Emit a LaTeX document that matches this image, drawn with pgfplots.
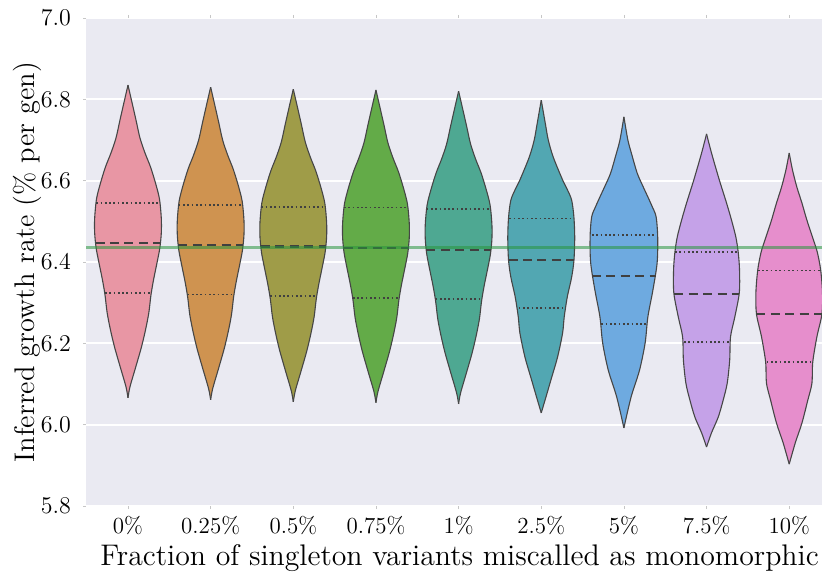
\documentclass[border=0pt]{standalone}
\usepackage{pgfplots}
\pgfplotsset{compat=1.18}
\usepackage{pgfplotstable}
\usepgfplotslibrary{fillbetween}

\definecolor{bgc}{RGB}{234,234,242}
\definecolor{edgec}{RGB}{70,70,70}
\definecolor{innerc}{RGB}{64,64,64}
\definecolor{gline}{RGB}{40,150,60}
\definecolor{c0}{RGB}{232,150,164}
\definecolor{c1}{RGB}{207,147,80}
\definecolor{c2}{RGB}{159,156,72}
\definecolor{c3}{RGB}{99,171,72}
\definecolor{c4}{RGB}{78,168,146}
\definecolor{c5}{RGB}{82,167,178}
\definecolor{c6}{RGB}{110,170,224}
\definecolor{c7}{RGB}{197,162,232}
\definecolor{c8}{RGB}{230,142,204}

% violin outlines: y value and half-width (category units)
\pgfplotstableread{
y w
6.066 0
6.093 0.024
6.142 0.094
6.191 0.163
6.233 0.212
6.275 0.252
6.319 0.278
6.356 0.309
6.398 0.351
6.434 0.385
6.471 0.403
6.508 0.403
6.555 0.381
6.594 0.333
6.634 0.272
6.668 0.206
6.705 0.145
6.749 0.097
6.798 0.042
6.835 0
}\vA
\pgfplotstableread{
y w
6.061 0
6.088 0.024
6.137 0.094
6.186 0.163
6.228 0.212
6.270 0.252
6.314 0.278
6.351 0.309
6.393 0.351
6.429 0.385
6.466 0.403
6.503 0.403
6.550 0.381
6.589 0.333
6.629 0.272
6.663 0.206
6.700 0.145
6.744 0.097
6.793 0.042
6.830 0
}\vB
\pgfplotstableread{
y w
6.056 0
6.083 0.024
6.132 0.094
6.181 0.163
6.223 0.212
6.265 0.252
6.309 0.278
6.346 0.309
6.388 0.351
6.424 0.385
6.461 0.403
6.498 0.403
6.545 0.381
6.584 0.333
6.624 0.272
6.658 0.206
6.695 0.145
6.739 0.097
6.788 0.042
6.825 0
}\vC
\pgfplotstableread{
y w
6.054 0
6.081 0.024
6.130 0.094
6.179 0.163
6.221 0.212
6.263 0.252
6.307 0.278
6.344 0.309
6.386 0.351
6.422 0.385
6.459 0.403
6.496 0.403
6.543 0.381
6.582 0.333
6.622 0.272
6.656 0.206
6.693 0.145
6.737 0.097
6.786 0.042
6.823 0
}\vD
\pgfplotstableread{
y w
6.051 0
6.078 0.024
6.127 0.094
6.176 0.163
6.218 0.212
6.260 0.252
6.304 0.278
6.341 0.309
6.383 0.351
6.419 0.385
6.456 0.403
6.493 0.403
6.540 0.381
6.579 0.333
6.619 0.272
6.653 0.206
6.690 0.145
6.734 0.097
6.783 0.042
6.820 0
}\vE
\pgfplotstableread{
y w
6.029 0
6.068 0.057
6.110 0.117
6.166 0.197
6.225 0.258
6.265 0.278
6.314 0.315
6.363 0.368
6.405 0.396
6.461 0.405
6.511 0.395
6.552 0.368
6.577 0.318
6.602 0.258
6.658 0.145
6.700 0.085
6.742 0.048
6.798 0
}\vF
\pgfplotstableread{
y w
5.992 0
6.068 0.087
6.134 0.189
6.201 0.257
6.265 0.290
6.331 0.351
6.398 0.402
6.461 0.409
6.511 0.390
6.535 0.345
6.560 0.290
6.589 0.224
6.619 0.160
6.663 0.097
6.700 0.048
6.757 0
}\vG
\pgfplotstableread{
y w
5.945 0
5.980 0.060
6.019 0.142
6.061 0.202
6.102 0.250
6.159 0.280
6.216 0.290
6.265 0.342
6.324 0.396
6.380 0.399
6.422 0.384
6.461 0.355
6.503 0.302
6.545 0.242
6.602 0.154
6.668 0.060
6.715 0
}\vH
\pgfplotstableread{
y w
5.903 0
5.955 0.073
6.004 0.154
6.061 0.226
6.102 0.275
6.154 0.285
6.216 0.335
6.272 0.396
6.324 0.403
6.380 0.381
6.425 0.339
6.461 0.282
6.503 0.214
6.545 0.154
6.584 0.093
6.626 0.040
6.668 0
}\vI

\newcommand{\violin}[3]{%
  \addplot[edgec, line width=0.55pt, smooth, tension=0.5, name path=R#1] table[x expr=#1+\thisrow{w}, y=y] {#2};
  \addplot[edgec, line width=0.55pt, smooth, tension=0.5, name path=L#1] table[x expr=#1-\thisrow{w}, y=y] {#2};
  \addplot[fill=#3, draw=none] fill between[of=R#1 and L#1];
}

\begin{document}
\begin{tikzpicture}
\begin{axis}[
  at={(0,0)}, anchor=south west,
  width=368pt, height=244pt, scale only axis,
  xmin=-0.508, xmax=8.397, ymin=5.8, ymax=7.0,
  xtick={0,1,2,3,4,5,6,7,8},
  xticklabels={0\%,0.25\%,0.5\%,0.75\%,1\%,2.5\%,5\%,7.5\%,10\%},
  ytick={5.8,6.0,6.2,6.4,6.6,6.8,7.0},
  xticklabel style={font=\fontsize{11.5}{13}\selectfont},
  yticklabel style={font=\fontsize{11.8}{13}\selectfont, xshift=-2.5pt,
    /pgf/number format/.cd, fixed, fixed zerofill, precision=1},
  axis line style={draw=none},
  axis background/.style={fill=bgc},
  ymajorgrids, grid style={white, line width=1pt},
  tick style={gray!45, line width=0.4pt}, major tick length=1.5pt, tick align=outside,
  xtick pos=both, ytick pos=left,
  xlabel={Fraction of singleton variants miscalled as monomorphic},
  ylabel={Inferred growth rate (\% per gen)},
  every axis x label/.style={at={(axis description cs:0.5075,-0.1223)}, anchor=base,
    font=\fontsize{14.9}{17}\selectfont},
  every axis y label/.style={at={(axis description cs:-0.0802,0.5)}, rotate=90, anchor=center,
    font=\fontsize{14.2}{17}\selectfont},
  medline/.style={innerc, line width=1.1pt, dash pattern=on 4.5pt off 2.7pt},
  qline/.style={innerc, line width=0.95pt, dash pattern=on 0.85pt off 1.3pt},
]
\violin{0}{\vA}{c0}
\violin{1}{\vB}{c1}
\violin{2}{\vC}{c2}
\violin{3}{\vD}{c3}
\violin{4}{\vE}{c4}
\violin{5}{\vF}{c5}
\violin{6}{\vG}{c6}
\violin{7}{\vH}{c7}
\violin{8}{\vI}{c8}

% quartiles (dotted) and medians (dashed)
\addplot[qline] coordinates {(-0.384,6.544) (0.384,6.544)};
\addplot[medline] coordinates {(-0.392,6.446) (0.392,6.446)};
\addplot[qline] coordinates {(-0.279,6.323) (0.279,6.323)};
\addplot[qline] coordinates {(0.614,6.540) (1.386,6.540)};
\addplot[medline] coordinates {(0.610,6.441) (1.390,6.441)};
\addplot[qline] coordinates {(0.721,6.320) (1.279,6.320)};
\addplot[qline] coordinates {(1.613,6.536) (2.387,6.536)};
\addplot[medline] coordinates {(1.610,6.438) (2.390,6.438)};
\addplot[qline] coordinates {(1.721,6.316) (2.279,6.316)};
\addplot[qline] coordinates {(2.613,6.534) (3.387,6.534)};
\addplot[medline] coordinates {(2.611,6.434) (3.389,6.434)};
\addplot[qline] coordinates {(2.721,6.312) (3.279,6.312)};
\addplot[qline] coordinates {(3.613,6.530) (4.387,6.530)};
\addplot[medline] coordinates {(3.611,6.430) (4.389,6.430)};
\addplot[qline] coordinates {(3.721,6.309) (4.279,6.309)};
\addplot[qline] coordinates {(4.615,6.507) (5.385,6.507)};
\addplot[medline] coordinates {(4.606,6.405) (5.394,6.405)};
\addplot[qline] coordinates {(4.728,6.286) (5.272,6.286)};
\addplot[qline] coordinates {(5.613,6.466) (6.387,6.466)};
\addplot[medline] coordinates {(5.613,6.366) (6.387,6.366)};
\addplot[qline] coordinates {(5.728,6.247) (6.272,6.247)};
\addplot[qline] coordinates {(6.617,6.425) (7.383,6.425)};
\addplot[medline] coordinates {(6.610,6.321) (7.390,6.321)};
\addplot[qline] coordinates {(6.728,6.203) (7.272,6.203)};
\addplot[qline] coordinates {(7.620,6.379) (8.380,6.379)};
\addplot[medline] coordinates {(7.604,6.272) (8.396,6.272)};
\addplot[qline] coordinates {(7.728,6.155) (8.272,6.155)};

% reference growth rate
\addplot[gline, opacity=0.55, line width=1.5pt] coordinates {(-0.6,6.435) (8.6,6.435)};
\end{axis}
\pgfresetboundingbox
\path[use as bounding box] (-43pt,-34pt) rectangle (368pt,253pt);
\end{tikzpicture}
\end{document}
